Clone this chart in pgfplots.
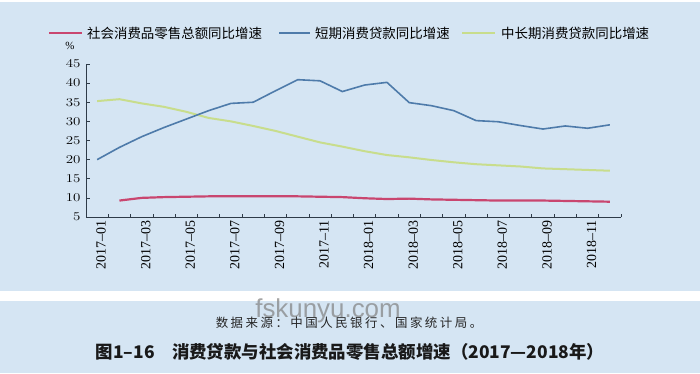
\documentclass[border=0pt]{standalone}
\usepackage{pgfplots}
\pgfplotsset{compat=1.18}
\usepackage{fontspec}
\setmainfont{Liberation Serif}
\newfontfamily\cjk{Noto Sans CJK SC}
\newfontfamily\cjkls{Noto Sans CJK SC}[LetterSpace=20]
\newfontfamily\wm{Liberation Sans}
\definecolor{bg}{HTML}{D5E5F3}
\definecolor{cred}{HTML}{C9466F}
\definecolor{cblue}{HTML}{4E7BAA}
\definecolor{cgreen}{HTML}{C8DD8C}
\definecolor{axc}{HTML}{2E3B48}
\begin{document}
\begin{tikzpicture}[x=1bp,y=1bp]
\fill[bg] (0,0) rectangle (700,373);
\fill[white] (0,72) rectangle (700,82);
\fill[white] (0,370.5) rectangle (700,373);
\begin{axis}[
  at={(86bp,156bp)}, anchor=south west, scale only axis,
  width=535bp, height=153bp,
  xmin=-0.5, xmax=23.5, ymin=5, ymax=45,
  axis x line*=bottom, axis y line*=left,
  axis line style={axc, line width=0.8pt, -},
  tick align=inside,
  major tick length=3.5bp,
  every tick/.style={axc, line width=0.7pt},
  xtick={-0.5,0.5,...,23.5}, xticklabels={},
  extra x ticks={0,2,...,22},
  extra x tick labels={2017--01,2017--03,2017--05,2017--07,2017--09,2017--11,2018--01,2018--03,2018--05,2018--07,2018--09,2018--11},
  extra x tick style={major tick length=0pt, tick label style={rotate=90, anchor=east, font=\fontsize{14}{14}\selectfont, yshift=-4bp}},
  ytick={5,10,...,45},
  yticklabel style={font=\fontsize{12.5}{12.5}\selectfont, xshift=-2bp},
  yticklabel={\scalebox{1.25}[1]{\pgfmathprintnumber{\tick}}},
  clip=false,
]
\addplot[cgreen, line width=2bp] coordinates {
(0,35.3)(1,35.8)(2,34.7)(3,33.8)(4,32.5)(5,30.9)(6,30.0)(7,28.8)(8,27.5)(9,26.0)(10,24.5)(11,23.4)
(12,22.2)(13,21.2)(14,20.6)(15,19.9)(16,19.3)(17,18.8)(18,18.5)(19,18.2)(20,17.7)(21,17.5)(22,17.3)(23,17.1)};
\addplot[cblue, line width=1.6bp] coordinates {
(0,20.0)(1,23.2)(2,26.0)(3,28.4)(4,30.6)(5,32.8)(6,34.7)(7,35.0)(8,38.0)(9,40.9)(10,40.6)(11,37.8)
(12,39.5)(13,40.2)(14,34.9)(15,34.1)(16,32.8)(17,30.2)(18,29.9)(19,28.9)(20,28.0)(21,28.8)(22,28.2)(23,29.1)};
\addplot[cred, line width=2.2bp] coordinates {
(1,9.3)(2,10.0)(3,10.2)(4,10.3)(5,10.4)(6,10.4)(7,10.4)(8,10.4)(9,10.4)(10,10.3)(11,10.2)
(12,9.9)(13,9.7)(14,9.8)(15,9.6)(16,9.5)(17,9.4)(18,9.3)(19,9.3)(20,9.3)(21,9.2)(22,9.1)(23,9.0)};
\end{axis}
% legend
\draw[cred, line width=2bp] (49,340) -- (82,340);
\node[anchor=west, inner sep=0] at (87,340) {\cjk\fontsize{13.5}{14}\selectfont 社会消费品零售总额同比增速};
\draw[cblue, line width=1.6bp] (279,340) -- (310,340);
\node[anchor=west, inner sep=0] at (315,340) {\cjk\fontsize{13.5}{14}\selectfont 短期消费贷款同比增速};
\draw[cgreen, line width=2bp] (462,340) -- (495,340);
\node[anchor=west, inner sep=0] at (501,340) {\cjk\fontsize{13.5}{14}\selectfont 中长期消费贷款同比增速};
\node[inner sep=0] at (70,327) {\fontsize{11}{11}\selectfont\%};
% watermark
\node[inner sep=0, text=gray, opacity=0.7] at (328,62) {\wm\fontsize{26}{26}\selectfont fskunyu.com};
% captions
\node[inner sep=0, text=black!85] at (349,50) {\cjkls\fontsize{12.5}{13}\selectfont 数据来源：中国人民银行、国家统计局。};
\node[inner sep=0, text=black!90] at (350,21) {\cjk\bfseries\fontsize{17.5}{18}\selectfont 图1–16\hspace{1em}消费贷款与社会消费品零售总额增速（2017—2018年）};
\end{tikzpicture}
\end{document}
